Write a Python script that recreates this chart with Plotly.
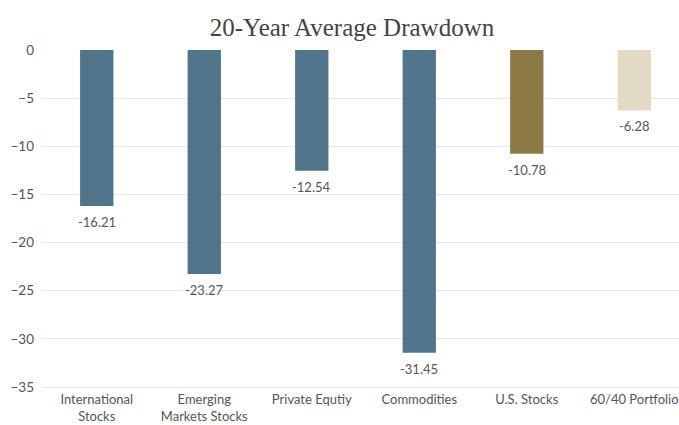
import plotly.graph_objects as go

categories = ["International<br>Stocks", "Emerging<br>Markets Stocks", "Private Equtiy",
              "Commodities", "U.S. Stocks", "60/40 Portfolio"]
drawdowns = [-16.21, -23.27, -12.54, -31.45, -10.78, -6.28]
bar_colors = ["#507489", "#507489", "#507489", "#507489", "#8C7A44", "#E3DAC4"]
y_ticks = [0, -5, -10, -15, -20, -25, -30, -35]

label_font = dict(family="Lato, Open Sans, sans-serif", size=13, color="#555555")
xs = list(range(len(categories)))

fig = go.Figure(go.Bar(
    x=xs,
    y=drawdowns,
    marker=dict(color=bar_colors, line=dict(width=0)),
    width=0.31,
))

# value labels just below each bar end
for x, v in zip(xs, drawdowns):
    fig.add_annotation(x=x, y=v, text=f"{v:.2f}", showarrow=False,
                       xanchor="center", yanchor="top", yshift=-6,
                       font=label_font)

fig.update_layout(
    width=679, height=425,
    margin=dict(l=43, r=0, t=50, b=38),
    paper_bgcolor="white", plot_bgcolor="white",
    showlegend=False,
    title=dict(text="20-Year Average Drawdown", x=352 / 679, xanchor="center",
               y=0.935, yanchor="middle",
               font=dict(family="Liberation Serif, Georgia, serif", size=25, color="#444444")),
    font=dict(family="Lato, Open Sans, sans-serif", size=13, color="#555555"),
)
fig.update_xaxes(
    tickmode="array", tickvals=xs, ticktext=categories,
    range=[-0.5, 5.416], showgrid=False, zeroline=False,
    showline=True, linecolor="#E6E6E6", linewidth=1,
    ticklabeloverflow="allow",
    tickfont=dict(size=13, color="#555555"), automargin=False,
)
fig.update_yaxes(
    range=[-35, 0], tickvals=y_ticks, showgrid=True, gridcolor="#E6E6E6", gridwidth=1,
    zeroline=False, showline=False, ticklabelstandoff=8,
    tickfont=dict(size=13.5, color="#555555"), automargin=False,
)

fig.write_html("out.html")
